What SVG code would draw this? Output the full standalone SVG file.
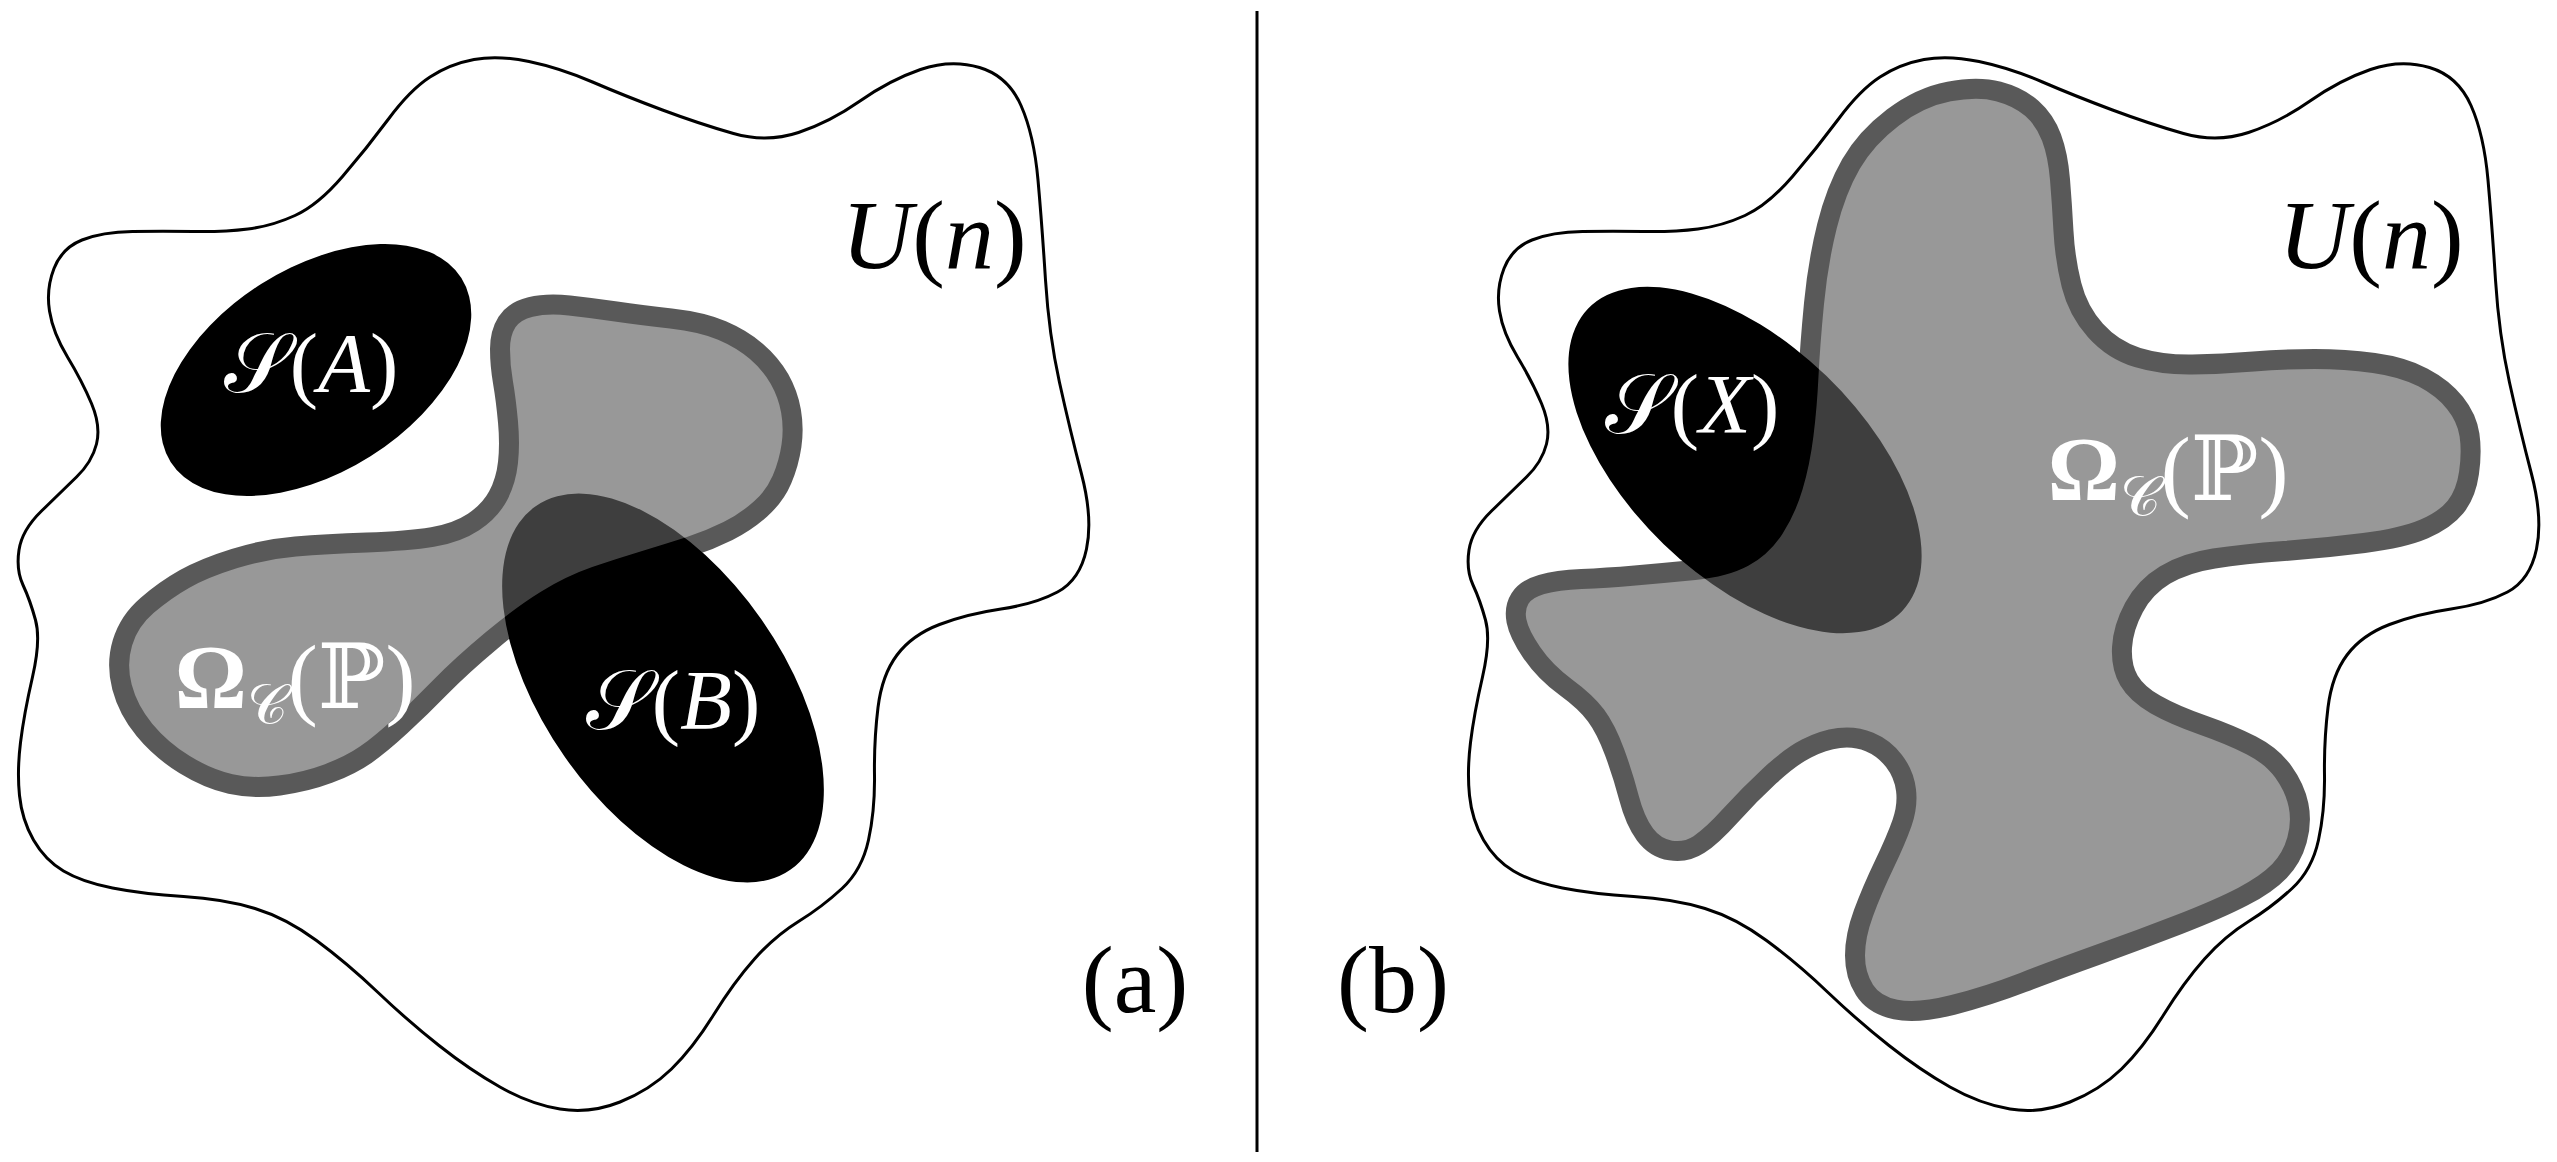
<svg xmlns="http://www.w3.org/2000/svg" xmlns:xlink="http://www.w3.org/1999/xlink" width="2557" height="1162" viewBox="0 0 2557 1162">
<style>
.univ{fill:none;stroke:#000;stroke-width:3}
.set{fill:#000}
.omega{opacity:0.647}
.omega path{fill:#616161;stroke:#000;stroke-width:20;stroke-linejoin:round}
.lbl{font-family:'Liberation Serif','DejaVu Serif',serif;text-anchor:middle}
.w{fill:#fff}
.k{fill:#000}
.it{font-style:italic}
.scr{font-family:'DejaVu Serif','DejaVu Sans','Noto Sans',serif;font-style:normal}
.ds{font-family:'DejaVu Serif','DejaVu Sans',serif}
</style>
<defs>
<path id="ublob" d="M 474,59.5 Q 498,55 529,61.5 Q 560,68 592.5,82 Q 625,96 662.5,110 Q 700,124 733.5,133.5 Q 767,143 798.5,132.5 Q 830,122 860,101 Q 890,80 920.5,69.5 Q 951,59 979.5,67.5 Q 1008,76 1021,105.5 Q 1034,135 1038,180 Q 1042,225 1045.5,280 Q 1049,335 1059.5,382.5 Q 1070,430 1081.5,474 Q 1093,518 1086.5,549 Q 1080,580 1057.5,592 Q 1035,604 1001,609 Q 967,614 939.5,624.5 Q 912,635 897,655 Q 882,675 878,707.5 Q 874,740 874.5,775 Q 875,810 868.5,840 Q 862,870 842,888.5 Q 822,907 798.5,921.5 Q 775,936 754.5,959 Q 734,982 713.5,1015 Q 693,1048 671.5,1069 Q 650,1090 620,1102 Q 590,1114 560,1109 Q 530,1104 500,1087 Q 470,1070 439,1045.5 Q 408,1021 377.5,992 Q 347,963 316.5,940.5 Q 286,918 255,908.5 Q 224,899 183.5,896.5 Q 143,894 112.5,888 Q 82,882 63.5,871 Q 45,860 33.5,840 Q 22,820 19.5,795.5 Q 17,771 20.5,742.5 Q 24,714 32.5,677 Q 41,640 35.5,620 Q 30,600 23,585 Q 16,570 19,550 Q 22,530 41.5,511 Q 61,492 76.5,477 Q 92,462 96.5,444 Q 101,426 91.5,403.5 Q 82,381 67.5,357 Q 53,333 49.5,311 Q 46,289 54,268.5 Q 62,248 82,240 Q 102,232 132.5,231.5 Q 163,231 193.5,231.5 Q 224,232 248,229 Q 272,226 295,215.5 Q 318,205 342.5,176.5 Q 367,148 388.5,119 Q 410,90 430,77 Q 450,64 474,59.5 Z"/>
</defs>

<line id="divider" x1="1257" y1="11" x2="1257" y2="1152" stroke="#000" stroke-width="3"/>

<!-- panel (a) -->
<g id="universe-a"><use xlink:href="#ublob" href="#ublob" class="univ"/></g>
<g id="set-SA"><ellipse class="set" cx="316" cy="370" rx="172" ry="102" transform="rotate(-32.3 316 370)"/></g>
<g id="set-SB"><ellipse class="set" cx="663" cy="688" rx="222" ry="120" transform="rotate(55 663 688)"/></g>
<g id="omega-a" class="omega"><path d="M 500,349 Q 500,333 507,322 Q 514,311 530.5,307 Q 547,303 569.5,305.5 Q 592,308 616,311.5 Q 640,315 671,318.5 Q 702,322 722,330.5 Q 742,339 756.5,351.5 Q 771,364 779.5,379 Q 788,394 791,411 Q 794,428 791.5,445.5 Q 789,463 782,479.5 Q 775,496 760.5,509 Q 746,522 728,531 Q 710,540 690,546.5 Q 670,553 645,560.5 Q 620,568 595.5,576.5 Q 571,585 546.5,600 Q 522,615 491.5,640.5 Q 461,666 440.5,687 Q 420,708 400.5,726 Q 381,744 366,754.5 Q 351,765 328.5,773.5 Q 306,782 279.5,785.5 Q 253,789 230.5,784 Q 208,779 184.5,764.5 Q 161,750 144.5,730 Q 128,710 122,687 Q 116,664 122.5,642.5 Q 129,621 147,605.5 Q 165,590 184.5,579 Q 204,568 234.5,558.5 Q 265,549 295.5,546.5 Q 326,544 367,542.5 Q 408,541 432.5,537 Q 457,533 473.5,522 Q 490,511 498,496 Q 506,481 508,462.5 Q 510,444 508,422 Q 506,400 503,382.5 Q 500,365 500,349 Z"/></g>

<g id="label-SA"><text class="lbl w" x="311" y="392" font-size="85"><tspan class="scr">𝒮</tspan>(<tspan class="it">A</tspan>)</text></g>
<g id="label-SB"><text class="lbl w" x="673" y="729" font-size="85"><tspan class="scr">𝒮</tspan>(<tspan class="it">B</tspan>)</text></g>
<g id="label-omega-a"><text class="lbl w" x="295" y="708" font-size="90"><tspan font-weight="bold">Ω</tspan><tspan class="scr" font-size="56" dy="16">𝒞</tspan><tspan dy="-16">(</tspan><tspan class="ds">ℙ</tspan>)</text></g>
<g id="label-U-a"><text class="lbl k" x="934" y="268" font-size="98"><tspan class="it">U</tspan>(<tspan class="it">n</tspan>)</text></g>
<g id="label-a"><text class="lbl k" x="1135" y="1012" font-size="96">(a)</text></g>

<!-- panel (b) -->
<g id="universe-b"><use xlink:href="#ublob" href="#ublob" class="univ" transform="translate(1450 0)"/></g>
<g id="set-SX"><ellipse class="set" cx="1745" cy="460" rx="218" ry="117" transform="rotate(44 1745 460)"/></g>
<g id="omega-b" class="omega"><path d="M 1893,117.5 Q 1920,97 1949,91.5 Q 1978,86 1998.5,91.5 Q 2019,97 2032,108.5 Q 2045,120 2051.5,137.5 Q 2058,155 2060,179.5 Q 2062,204 2063.5,231.5 Q 2065,259 2071.5,285 Q 2078,311 2095.5,330.5 Q 2113,350 2137.5,357.5 Q 2162,365 2192.5,364.5 Q 2223,364 2253.5,361.5 Q 2284,359 2314.5,359 Q 2345,359 2374,363 Q 2403,367 2423,377.5 Q 2443,388 2455,403 Q 2467,418 2469.5,435 Q 2472,452 2469,473 Q 2466,494 2455.5,507 Q 2445,520 2424,529 Q 2403,538 2364,543 Q 2325,548 2284,551 Q 2243,554 2214,558.5 Q 2185,563 2165,575 Q 2145,587 2134,607.5 Q 2123,628 2122,647.5 Q 2121,667 2129,680.5 Q 2137,694 2155.5,704.5 Q 2174,715 2202.5,725 Q 2231,735 2251.5,745.5 Q 2272,756 2283.5,772 Q 2295,788 2298.5,805 Q 2302,822 2297,840 Q 2292,858 2279.5,871 Q 2267,884 2243,896.5 Q 2219,909 2179,924.5 Q 2139,940 2098.5,954.5 Q 2058,969 2023,982.5 Q 1988,996 1952.5,1005 Q 1917,1014 1895.5,1009.5 Q 1874,1005 1864.5,990 Q 1855,975 1855,955.5 Q 1855,936 1863.5,913 Q 1872,890 1884,865 Q 1896,840 1902,823 Q 1908,806 1906,790 Q 1904,774 1894,761 Q 1884,748 1869.5,742 Q 1855,736 1839,738 Q 1823,740 1806.5,748.5 Q 1790,757 1769.5,776 Q 1749,795 1730.5,815.5 Q 1712,836 1699,844.5 Q 1686,853 1670.5,850.5 Q 1655,848 1645,834.5 Q 1635,821 1629,798 Q 1623,775 1614.5,752 Q 1606,729 1596,715.5 Q 1586,702 1565.5,687 Q 1545,672 1532,653 Q 1519,634 1516.5,621 Q 1514,608 1520,598.5 Q 1526,589 1541.5,584.5 Q 1557,580 1581.5,579 Q 1606,578 1635,575.5 Q 1664,573 1694.5,570 Q 1725,567 1743.5,557 Q 1762,547 1774,528.5 Q 1786,510 1793,486.5 Q 1800,463 1803.5,435 Q 1807,407 1808.5,376 Q 1810,345 1814,303.5 Q 1818,262 1827,226 Q 1836,190 1851,164 Q 1866,138 1893,117.5 Z"/></g>

<g id="label-SX"><text class="lbl w" x="1692" y="433" font-size="85"><tspan class="scr">𝒮</tspan>(<tspan class="it">X</tspan>)</text></g>
<g id="label-omega-b"><text class="lbl w" x="2168" y="500" font-size="90"><tspan font-weight="bold">Ω</tspan><tspan class="scr" font-size="56" dy="16">𝒞</tspan><tspan dy="-16">(</tspan><tspan class="ds">ℙ</tspan>)</text></g>
<g id="label-U-b"><text class="lbl k" x="2371" y="268" font-size="98"><tspan class="it">U</tspan>(<tspan class="it">n</tspan>)</text></g>
<g id="label-b"><text class="lbl k" x="1393" y="1012" font-size="96">(b)</text></g>
</svg>
